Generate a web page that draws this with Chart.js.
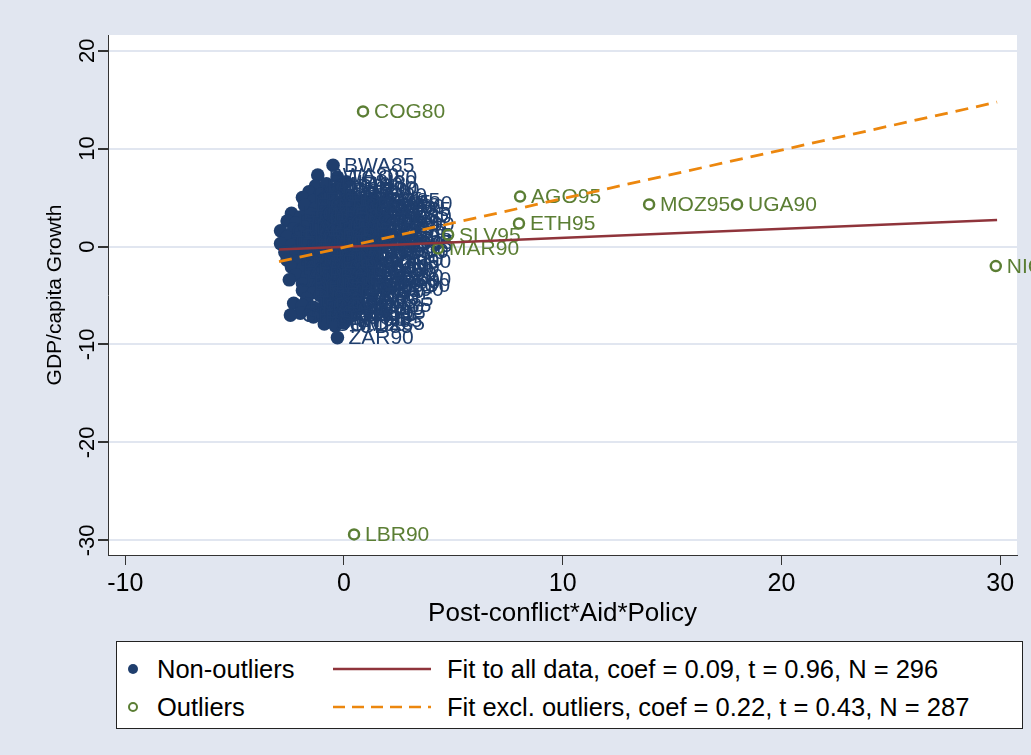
<!DOCTYPE html>
<html lang="en">
<head>
    <meta charset="UTF-8">
    <title>Post-conflict aid and growth</title>
    <script src="https://cdn.jsdelivr.net/npm/chart.js"></script>
    <style>
        body {margin: 0; background: #e1e6f0; font-family: "Liberation Sans", Arial, sans-serif;}
        #wrap {position: relative; width: 1031px; height: 755px; overflow: hidden;}
        #legend {position: absolute; left: 116px; top: 641px; width: 905px; height: 86px; background: #fff; border: 1px solid #222;}
        .item {position: absolute; transform: translateY(-50%); font-size: 25.5px; color: #000; white-space: nowrap;}
        .sym {position: absolute; transform: translate(-50%, -50%);}
    </style>
</head>
<body>
    <div id="wrap">
        <canvas id="scatter_canvas" width="1031" height="755"></canvas>
        <div id="legend">
            <svg class="sym" style="left:16px; top:27px" width="12" height="12"><circle cx="6" cy="6" r="5" fill="#1f3e6d"/></svg>
            <span class="item" style="left:40px; top:27px">Non-outliers</span>
            <svg class="sym" style="left:265px; top:27px" width="98" height="6"><line x1="0" y1="3" x2="98" y2="3" stroke="#8f343b" stroke-width="2.5"/></svg>
            <span class="item" style="left:330px; top:27px">Fit to all data, coef = 0.09, t = 0.96, N = 296</span>

            <svg class="sym" style="left:16px; top:65px" width="12" height="12"><circle cx="6" cy="6" r="4" fill="none" stroke="#5b7e34" stroke-width="2"/></svg>
            <span class="item" style="left:40px; top:65px">Outliers</span>
            <svg class="sym" style="left:265px; top:65px" width="98" height="6"><line x1="0" y1="3" x2="98" y2="3" stroke="#ec870e" stroke-width="2.5" stroke-dasharray="12 7"/></svg>
            <span class="item" style="left:330px; top:65px">Fit excl. outliers, coef = 0.22, t = 0.43, N = 287</span>
        </div>
    </div>
    <script>
        // Non-outliers, read row by row off the cloud (top to bottom)
        const nonOutX = [
            -0.5,
            -1.2, -0.3,
            -1.3, -0.8, -0.3, 0.1,
            -1.6, -1.1, -0.6, -0.1, 0.3,
            -1.9, -1.4, -0.9, -0.4, 0.1, 0.5, 0.9, 1.2,
            -1.8, -1.3, -0.8, -0.3, 0.2, 0.6, 1.0, 1.4,
            -2.4, -2.0, -1.5, -1.0, -0.5, 0.0, 0.4, 0.8, 1.2, 1.5,
            -2.6, -2.2, -1.7, -1.2, -0.7, -0.2, 0.2, 0.6, 1.0, 1.4,
            -2.9, -2.3, -1.8, -1.3, -0.8, -0.3, 0.1, 0.5, 0.9, 1.3, 1.5,
            -2.6, -2.1, -1.6, -1.1, -0.6, -0.1, 0.3, 0.7, 1.1, 1.4,
            -2.9, -2.4, -1.9, -1.4, -0.9, -0.4, 0.0, 0.4, 0.8, 1.2, 1.4,
            -2.7, -2.2, -1.7, -1.2, -0.7, -0.2, 0.2, 0.6, 1.0, 1.3,
            -2.6, -2.1, -1.6, -1.1, -0.6, -0.1, 0.3, 0.7, 1.0, 1.3,
            -2.4, -1.9, -1.4, -0.9, -0.4, 0.0, 0.4, 0.8, 1.2,
            -2.2, -1.7, -1.2, -0.7, -0.2, 0.2, 0.6, 1.0, 1.2,
            -2.5, -1.9, -1.4, -0.9, -0.4, 0.0, 0.4, 0.8, 1.1,
            -1.9, -1.4, -0.9, -0.4, 0.0, 0.4, 0.8,
            -1.7, -1.1, -0.7, -0.2, 0.2, 0.6,
            -2.3, -1.9, -1.4, -0.9, -0.4, 0.0, 0.4,
            -2.0, -1.5, -1.0, -0.6, -0.2, 0.1,
            -2.45, -1.4, -0.8, -0.3, 0.1,
            -0.9, -0.4, 0.0,
            -0.3
        ];
        const nonOutY = [
            8.3,
            7.3, 7.1,
            6.2, 6.4, 6.0, 6.6,
            5.6, 5.3, 5.5, 5.9, 5.2,
            5.0, 4.7, 4.9, 4.6, 4.8, 4.5, 4.7, 4.4,
            4.2, 3.9, 4.1, 4.0, 4.2, 3.9, 4.1, 3.8,
            3.4, 3.0, 3.3, 3.2, 3.5, 3.1, 3.4, 3.0, 3.3, 3.1,
            2.6, 2.4, 2.6, 2.5, 2.7, 2.5, 2.7, 2.4, 2.6, 2.3,
            1.6, 1.8, 2.0, 1.7, 1.9, 1.7, 2.0, 1.7, 1.9, 1.6, 1.9,
            1.0, 0.9, 1.2, 0.8, 1.1, 0.9, 1.2, 0.8, 1.0, 1.2,
            0.3, 0.1, 0.4, 0.2, 0.3, 0.1, 0.4, 0.2, 0.3, 0.1, 0.4,
            -0.6, -0.5, -0.7, -0.4, -0.6, -0.5, -0.7, -0.4, -0.6, -0.5,
            -1.4, -1.5, -1.2, -1.6, -1.3, -1.5, -1.2, -1.6, -1.3, -1.5,
            -2.1, -2.3, -2.0, -2.2, -2.1, -2.4, -2.0, -2.3, -2.1,
            -2.9, -3.1, -2.8, -3.0, -2.9, -3.2, -2.8, -3.0, -3.3,
            -3.4, -3.8, -3.9, -3.7, -4.0, -3.7, -3.9, -3.6, -3.9,
            -4.5, -4.7, -4.4, -4.7, -4.5, -4.6, -4.4,
            -5.3, -5.0, -5.4, -5.6, -5.2, -5.4,
            -5.8, -6.0, -6.2, -6.0, -6.1, -6.3, -6.0,
            -6.8, -6.6, -6.9, -6.7, -6.9, -6.7,
            -7.0, -7.2, -7.4, -7.3, -7.5,
            -7.9, -8.1, -7.8,
            -9.3
        ];
        const nonOutLabels = [
            'BWA85',
            'BWA80', 'TGO80',
            'KOR85', 'THA90', 'CHN90', 'IDN80',
            'MUS85', 'IDN85', 'MYS90', 'SYR90', 'JOR80',
            'KOR80', 'EGY85', 'MUS90', 'TUN85', 'JOR85', 'CHL85', 'LSO85', 'CMR80',
            'EGY80', 'IND90', 'HND85', 'TUN80', 'DZA80', 'GAB80', 'ECU80', 'DZA85',
            'LKA85', 'TUR85', 'COL80', 'MEX80', 'BRA80', 'PRY80', 'NPL85', 'KEN80', 'GAB85', 'PAK80',
            'LKA90', 'TUR90', 'MEX90', 'NPL90', 'KEN85', 'GHA95', 'JAM95', 'DOM85', 'CRI90', 'GHA90',
            'GUY95', 'JAM90', 'DOM90', 'CRI85', 'PHL95', 'URY85', 'BOL90', 'SEN95', 'MLI95', 'TZA95', 'CIV95',
            'IRN90', 'VEN80', 'ARG90', 'PER95', 'PAN90', 'GTM85', 'BFA95', 'GIN95', 'MDG95', 'BEN95',
            'TTO85', 'ZWE90', 'HTI80', 'SLE80', 'MRT85', 'NER85', 'TCD90', 'CAF90', 'GMB90', 'RWA95', 'ZMB95',
            'NGA80', 'VEN85', 'ZAF90', 'EGY90', 'KEN90', 'BDI90', 'NIC85', 'HND90', 'GNB90', 'ETH90',
            'BOL95', 'SEN85', 'MLI85', 'TZA90', 'CIV85', 'IRN95', 'VEN90', 'ARG95', 'PER80', 'SDN90',
            'HND95', 'GNB85', 'MLI80', 'SDN80', 'ARG80', 'MEX95', 'BOL80', 'SLV90', 'MLI90',
            'ARG85', 'MEX85', 'PER85', 'BOL85', 'SLV85', 'GTM80', 'TGO90', 'MWI90', 'MOZ90',
            'JAM85', 'PHL85', 'GUY90', 'COL90', 'PRY90', 'SEN90', 'MDG90', 'NER90', 'CMR90',
            'BRA90', 'IRN85', 'HTI90', 'SLE90', 'CAF85', 'GIN90', 'RWA90',
            'MDG80', 'NER95', 'ZMB80', 'BRA95', 'IRN80', 'ZAR85',
            'TTO90', 'JOR90', 'PAN85', 'DZA90', 'CIV90', 'NGA90', 'SDN85',
            'CIV80', 'NGA95', 'SDN95', 'GHA80', 'PER75', 'MRT95',
            'GHA85', 'PER90', 'MRT90', 'BFA90', 'ETH85',
            'SOM90', 'TCD85', 'MOZ85',
            'ZAR90'
        ];

        // Outliers
        const outX = [0.87, 0.46, 8.05, 8.0, 13.95, 17.97, 29.8, 4.76, 4.3];
        const outY = [13.8, -29.4, 5.1, 2.35, 4.3, 4.3, -2.0, 1.2, -0.2];
        const outLabels = ['COG80', 'LBR90', 'AGO95', 'ETH95', 'MOZ95', 'UGA90', 'NIC90', 'SLV95', 'MAR90'];

        // Fitted lines (end points as drawn)
        const fitAllX = [-2.97, 29.86];
        const fitAllY = [-0.3, 2.7];
        const fitExclX = [-2.97, 29.86];
        const fitExclY = [-1.55, 14.75];

        const xTicks = [-10, 0, 10, 20, 30];
        const yTicks = [-30, -20, -10, 0, 10, 20];

        const navy = '#1f3e6d';
        const green = '#5b7e34';
        const maroon = '#8f343b';
        const orange = '#ec870e';
        const bgGray = '#e1e6f0';

        Chart.defaults.font.family = '"Liberation Sans", Arial, sans-serif';
        Chart.defaults.color = '#000';

        const toPoints = (xs, ys) => xs.map((x, i) => ({x: x, y: ys[i]}));

        // gray page + white plot region
        const background = {
            id: 'background',
            beforeDraw(chart) {
                const {ctx, chartArea: a} = chart;
                ctx.save();
                ctx.fillStyle = bgGray;
                ctx.fillRect(0, 0, chart.width, chart.height);
                ctx.fillStyle = '#fff';
                ctx.fillRect(a.left, a.top, a.right - a.left, a.bottom - a.top);
                ctx.restore();
            }
        };

        // marker labels next to each point
        const pointLabels = {
            id: 'pointLabels',
            afterDatasetDraw(chart, args) {
                const ds = chart.data.datasets[args.index];
                if (!ds.pointLabels) return;
                const ctx = chart.ctx;
                ctx.save();
                ctx.font = '21px "Liberation Sans", Arial, sans-serif';
                ctx.fillStyle = ds.labelColor;
                ctx.textBaseline = 'middle';
                args.meta.data.forEach((pt, i) => {
                    ctx.fillText(ds.pointLabels[i], pt.x + 11, pt.y + 1);
                });
                ctx.restore();
            }
        };

        new Chart(document.getElementById('scatter_canvas'), {
            type: 'scatter',
            data: {
                datasets: [
                    {
                        label: 'Non-outliers',
                        data: toPoints(nonOutX, nonOutY),
                        pointLabels: nonOutLabels,
                        labelColor: navy,
                        pointRadius: 6.8,
                        pointBackgroundColor: navy,
                        pointBorderWidth: 0,
                        order: 3
                    },
                    {
                        label: 'Outliers',
                        data: toPoints(outX, outY),
                        pointLabels: outLabels,
                        labelColor: green,
                        pointRadius: 5,
                        pointBackgroundColor: 'rgba(0,0,0,0)',
                        pointBorderColor: green,
                        pointBorderWidth: 2.5,
                        order: 2
                    },
                    {
                        type: 'line',
                        label: 'Fit to all data',
                        data: toPoints(fitAllX, fitAllY),
                        borderColor: maroon,
                        borderWidth: 2.5,
                        pointRadius: 0,
                        fill: false,
                        order: 1
                    },
                    {
                        type: 'line',
                        label: 'Fit excl. outliers',
                        data: toPoints(fitExclX, fitExclY),
                        borderColor: orange,
                        borderWidth: 2.8,
                        borderDash: [13, 8],
                        pointRadius: 0,
                        fill: false,
                        order: 0
                    }
                ]
            },
            options: {
                responsive: false,
                animation: false,
                layout: {padding: {left: 0, right: 14, top: 35, bottom: 120}},
                plugins: {
                    legend: {display: false},
                    tooltip: {enabled: false}
                },
                scales: {
                    x: {
                        type: 'linear',
                        min: -10.79,
                        max: 30.77,
                        afterBuildTicks: (s) => { s.ticks = xTicks.map(v => ({value: v})); },
                        afterFit: (s) => { s.height = 80; },
                        grid: {drawOnChartArea: false, tickLength: 10, tickColor: '#333', lineWidth: 1},
                        border: {color: '#333', width: 1},
                        ticks: {font: {size: 25}, padding: 4, maxRotation: 0},
                        title: {display: true, text: 'Post-conflict*Aid*Policy', font: {size: 26}, padding: {top: 0, bottom: 6}}
                    },
                    y: {
                        min: -31.5,
                        max: 21.6,
                        afterBuildTicks: (s) => { s.ticks = yTicks.map(v => ({value: v})); },
                        afterFit: (s) => { s.width = 108; },
                        grid: {color: bgGray, lineWidth: 2, tickLength: 10, tickColor: '#333'},
                        border: {color: '#333', width: 1},
                        ticks: {font: {size: 22}, minRotation: 90, maxRotation: 90, crossAlign: 'center', padding: -6},
                        title: {display: true, text: 'GDP/capita Growth', font: {size: 21}, padding: {top: 43, bottom: 0}}
                    }
                }
            },
            plugins: [background, pointLabels]
        });
    </script>
</body>
</html>
